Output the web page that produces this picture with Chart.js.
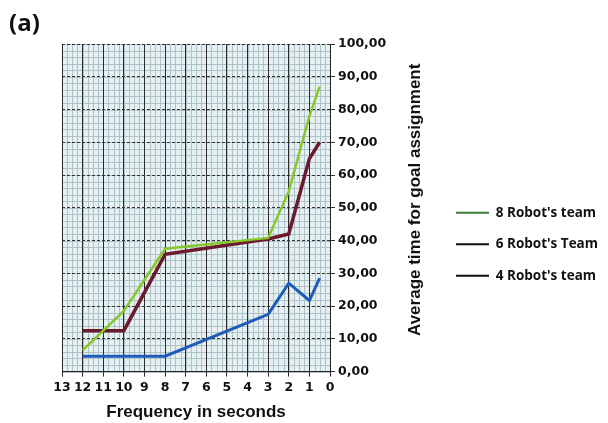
<!DOCTYPE html>
<html>
<head>
<meta charset="utf-8">
<script src="https://cdn.jsdelivr.net/npm/chart.js@4.4.0/dist/chart.umd.min.js"></script>
<style>
  html, body { margin: 0; padding: 0; background: #fff; }
  #wrap { width: 608px; height: 423px; position: relative; }
</style>
</head>
<body>
<div id="wrap"><canvas id="chart"></canvas></div>
<script>
// frequency (seconds) and average time per team size
const freqs = [12, 10, 8, 3, 2, 1, 0.5];
const team8 = [6.5, 18.5, 37.5, 40.8, 55, 78, 87];
const team6 = [12.5, 12.5, 35.8, 40.5, 42, 65, 70];
const team4 = [4.7, 4.7, 4.7, 17.5, 27, 21.7, 28.5];
const seriesNames = ["8 Robot's team", "6 Robot's Team", "4 Robot's team"];
const legendColors = ['#3f7d3a', '#111111', '#111111'];
const yTicks = [0, 10, 20, 30, 40, 50, 60, 70, 80, 90, 100];

const pts = vals => freqs.map((f, i) => ({ x: f, y: vals[i] }));

// graph paper background + minor grid, and the extra texts
const paper = {
  id: 'paper',
  beforeDraw(chart) {
    const { ctx, chartArea: a, scales: { x, y } } = chart;
    ctx.save();
    ctx.fillStyle = '#e6eff1';
    ctx.fillRect(a.left, a.top, a.right - a.left, a.bottom - a.top);
    ctx.strokeStyle = '#adc3c8';
    ctx.lineWidth = 1;
    ctx.beginPath();
    for (let v = 0; v <= 13; v += 0.25) {
      const px = Math.round(x.getPixelForValue(v)) + 0.5;
      ctx.moveTo(px, a.top); ctx.lineTo(px, a.bottom);
    }
    for (let v = 0; v <= 100; v += 2) {
      const py = Math.round(y.getPixelForValue(v)) + 0.5;
      ctx.moveTo(a.left, py); ctx.lineTo(a.right, py);
    }
    ctx.stroke();
    ctx.restore();
  },
  afterDraw(chart) {
    const { ctx, chartArea: a } = chart;
    ctx.save();
    ctx.fillStyle = '#111';
    ctx.font = 'bold 24px "Open Sans"';
    ctx.textBaseline = 'alphabetic';
    ctx.fillText('(a)', 9, 31);
    ctx.translate(415, (a.top + a.bottom) / 2 - 8);
    ctx.rotate(-Math.PI / 2);
    ctx.font = 'bold 17px "Liberation Sans"';
    ctx.textAlign = 'center';
    ctx.textBaseline = 'middle';
    ctx.fillText('Average time for goal assignment', 0, 0);
    ctx.restore();
  }
};

new Chart(document.getElementById('chart'), {
  type: 'line',
  data: {
    datasets: [
      { label: seriesNames[0], data: pts(team8), borderColor: '#86c82a', borderWidth: 2.5 },
      { label: seriesNames[1], data: pts(team6), borderColor: '#6a1a2c', borderWidth: 3.5 },
      { label: seriesNames[2], data: pts(team4), borderColor: '#1f5bb8', borderWidth: 3 }
    ]
  },
  options: {
    responsive: true,
    maintainAspectRatio: false,
    animation: false,
    elements: { point: { radius: 0 }, line: { tension: 0 } },
    layout: { padding: { left: 62, top: 44, right: 4, bottom: 0 } },
    scales: {
      x: {
        type: 'linear',
        reverse: true,
        min: 0, max: 13,
        ticks: {
          stepSize: 1, autoSkip: false, maxRotation: 0, padding: 4,
          color: '#111', font: { family: 'DejaVu Sans', weight: 'bold', size: 12.5 }
        },
        grid: { color: '#2a2a2a', lineWidth: 1, tickLength: 5 },
        border: { color: '#222', width: 1 },
        title: {
          display: true, text: 'Frequency in seconds', color: '#111',
          font: { family: 'Liberation Sans', weight: 'bold', size: 17 },
          padding: { top: 3, bottom: 0 }
        }
      },
      y: {
        position: 'right',
        min: 0, max: 100,
        afterBuildTicks: s => { s.ticks = yTicks.map(v => ({ value: v })); },
        afterFit: s => { s.width = 108; },
        ticks: {
          padding: 3, color: '#111',
          font: { family: 'DejaVu Sans', weight: 'bold', size: 12.5 },
          callback: v => v.toFixed(2).replace('.', ',')
        },
        grid: { color: '#333', lineWidth: 1, tickLength: 5 },
        border: { color: '#222', width: 1, dash: [3, 2] }
      }
    },
    plugins: {
      legend: {
        position: 'right',
        maxWidth: 166,
        title: { display: true, text: '', padding: { top: 7 } },
        labels: {
          boxWidth: 33, boxHeight: 2, padding: 18, color: '#111',
          font: { family: 'Open Sans', weight: 'bold', size: 13.5 },
          generateLabels: () => seriesNames.map((n, i) => ({
            text: n, fillStyle: legendColors[i], strokeStyle: legendColors[i],
            fontColor: '#111', lineWidth: 0, datasetIndex: i
          }))
        }
      },
      tooltip: { enabled: false }
    }
  },
  plugins: [paper]
});
</script>
</body>
</html>
